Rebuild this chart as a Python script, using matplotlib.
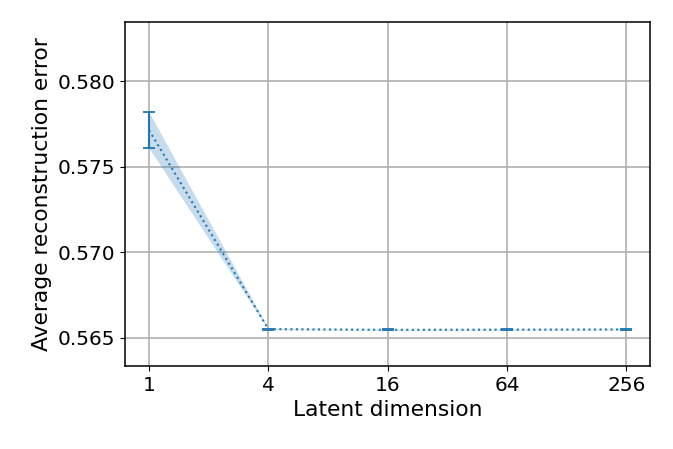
import numpy as np
import matplotlib
matplotlib.use("Agg")
import matplotlib.pyplot as plt

# Values
latent_dims = [1, 4, 16, 64, 256]
mean_error = [0.57713, 0.56551, 0.56547, 0.56548, 0.56549]
std_error = [0.00105, 0.00003, 0.00002, 0.00003, 0.00002]
tick_labels = ["1", "4", "16", "64", "256"]

mean = np.array(mean_error)
std = np.array(std_error)

fig, ax = plt.subplots(figsize=(6.73, 4.49), dpi=100)
color = "#1f77b4"

ax.errorbar(latent_dims, mean, yerr=std, color=color, linestyle=":",
            linewidth=1.5, capsize=4, elinewidth=1.5, capthick=1.3)
ax.fill_between(latent_dims, mean - std, mean + std, color=color, alpha=0.25,
                linewidth=0)

ax.set_xscale("log", base=2)
ax.set_xticks(latent_dims)
ax.set_xticklabels(tick_labels)
ax.minorticks_off()
ax.set_ylim(0.56336, 0.58345)
ax.set_yticks([0.565, 0.570, 0.575, 0.580])
ax.set_yticklabels(["0.565", "0.570", "0.575", "0.580"])
ax.tick_params(labelsize=14.5)
ax.grid(True, color="#b0b0b0", linewidth=1.2)
ax.set_axisbelow(True)
for s in ax.spines.values():
    s.set_linewidth(1.1)

ax.set_xlabel("Latent dimension", fontsize=15.7)
ax.set_ylabel("Average reconstruction error", fontsize=15.7)

fig.subplots_adjust(left=0.186, right=0.966, top=0.951, bottom=0.185)
fig.savefig("out.png", dpi=100)
